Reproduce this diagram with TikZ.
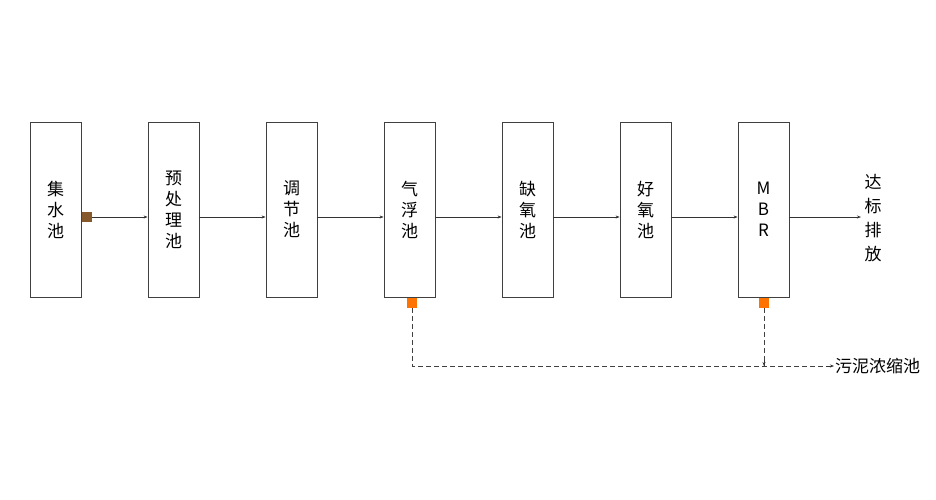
\documentclass[tikz,border=0pt]{standalone}
\usepackage{fontspec}
\newfontfamily\cjk{Noto Sans CJK SC}
\usetikzlibrary{arrows.meta}
\begin{document}
\begin{tikzpicture}[x=1pt,y=-1pt,
 box/.style={draw=black!75,line width=0.8pt,minimum width=51pt,minimum height=175pt,inner sep=0pt,font=\cjk\fontsize{17}{21}\selectfont,align=center},
 arr/.style={draw=black!80,line width=0.7pt,-{Stealth[length=4pt,width=3pt]}},
 dsh/.style={draw=black!75,line width=0.7pt,dashed,dash pattern=on 5pt off 3pt},
 sq/.style={minimum size=10pt,inner sep=0pt}]
\useasboundingbox (0,0) rectangle (936,500);
\node[box] (b1) at (55.5,209.5) {集\\水\\池};
\node[box] (b2) at (173.5,209.5) {预\\处\\理\\池};
\node[box] (b3) at (291.5,209.5) {调\\节\\池};
\node[box] (b4) at (409.5,209.5) {气\\浮\\池};
\node[box] (b5) at (527.5,209.5) {缺\\氧\\池};
\node[box] (b6) at (645.5,209.5) {好\\氧\\池};
\node[box] (b7) at (763.5,209.5) {M\\B\\R};
\node[font=\cjk\fontsize{17}{24}\selectfont,align=center] (out) at (873,218) {达\\标\\排\\放};
\node[sq,fill=brown!70!black] (s1) at (87,217) {};
\node[sq,fill=orange!90!red] (s2) at (412,303) {};
\node[sq,fill=orange!90!red] (s3) at (764,303) {};
\coordinate (c1) at (412,366);
\coordinate (c2) at (764,366);
\node[font=\cjk\fontsize{17}{21}\selectfont,anchor=west,inner sep=1pt] (sl) at (834,366) {污泥浓缩池};
\draw[arr] (s1.east) -- (b2.west|-s1);
\foreach \a/\b in {b2/b3,b3/b4,b4/b5,b5/b6,b6/b7} \draw[arr] (\a.east|-s1) -- (\b.west|-s1);
\draw[arr] (b7.east|-s1) -- (out.west|-s1);
\draw[dsh] (s2.south) -- (c1) -- (sl.west);
\draw[dsh] (sl.west) ++(-3,0) -- +(0,0);
\draw[arr] (sl.west)++(-8,0) -- (sl.west);
\draw[dsh] (s3.south) -- (c2);
\draw[arr] (764,360) -- (c2);
\end{tikzpicture}
\end{document}
